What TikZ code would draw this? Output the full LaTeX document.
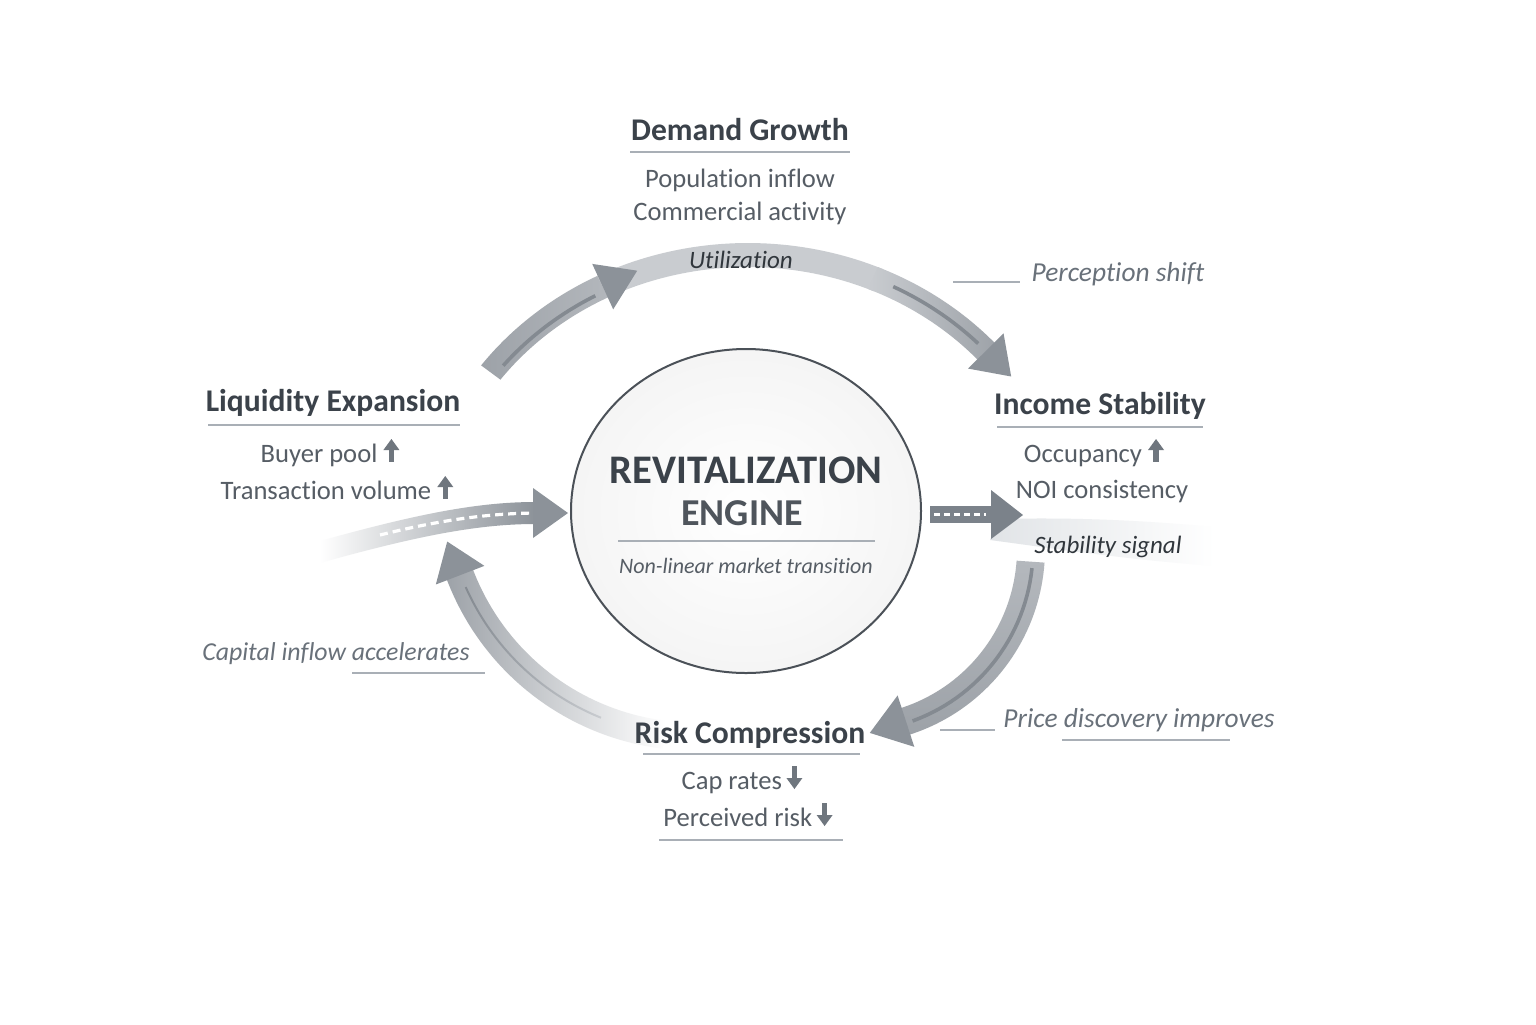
\documentclass[tikz,border=0pt]{standalone}
\usepackage{fontspec}
\setmainfont{Carlito}[Ligatures={NoCommon}]
\usetikzlibrary{shapes.geometric}
\definecolor{txtdark}{HTML}{3B424A}
\definecolor{txtbody}{HTML}{565D65}
\definecolor{txtside}{HTML}{69717A}
\definecolor{txtlabel}{HTML}{30363C}
\definecolor{rulec}{HTML}{A9AFB6}
\definecolor{stripec}{HTML}{848A91}
\definecolor{headc}{HTML}{8C9299}
\definecolor{ringc}{HTML}{4B5158}
\definecolor{solidarr}{HTML}{7B828A}
\definecolor{glyphc}{HTML}{6F767E}
\definecolor{bandA}{HTML}{9DA2A8}
\definecolor{bandB}{HTML}{B4B8BD}
\definecolor{bandC}{HTML}{C9CCD0}
\definecolor{bandL}{HTML}{F3F4F5}
\definecolor{wedge}{HTML}{E1E4E7}

\newcommand{\upglyph}{\tikz[baseline=0pt]{\fill[glyphc] (-1.3pt,0pt) rectangle (1.3pt,7pt); \fill[glyphc] (-4pt,6pt) -- (0pt,11.5pt) -- (4pt,6pt) -- cycle;}}
\newcommand{\downglyph}{\tikz[baseline=0pt]{\fill[glyphc] (-1.3pt,4.5pt) rectangle (1.3pt,11.5pt); \fill[glyphc] (-4pt,5.5pt) -- (0pt,0pt) -- (4pt,5.5pt) -- cycle;}}

% arrow head on an elliptic arc: cx cy rx ry t sign len halfwidth colour
\newcommand{\ehead}[9]{%
 \pgfmathsetmacro{\hBx}{#1+#3*cos(#5)}%
 \pgfmathsetmacro{\hBy}{#2+#4*sin(#5)}%
 \pgfmathsetmacro{\hTx}{-#3*sin(#5)}%
 \pgfmathsetmacro{\hTy}{#4*cos(#5)}%
 \pgfmathsetmacro{\hN}{veclen(\hTx,\hTy)}%
 \pgfmathsetmacro{\hUx}{#6*\hTx/\hN}%
 \pgfmathsetmacro{\hUy}{#6*\hTy/\hN}%
 \fill[#9] ({\hBx+#8*\hUy},{\hBy-#8*\hUx}) -- ({\hBx+#7*\hUx},{\hBy+#7*\hUy}) -- ({\hBx-#8*\hUy},{\hBy+#8*\hUx}) -- cycle;}
% band along an elliptic arc: cx cy rx ry t1 t2 halfwidth shade-options
\newcommand{\eband}[8]{%
 \shade[#8] plot[domain=#5:#6, samples=40, variable=\t] ({#1+(#3+#7)*cos(\t)},{#2+(#4+#7)*sin(\t)}) -- plot[domain=#6:#5, samples=40, variable=\t] ({#1+(#3-#7)*cos(\t)},{#2+(#4-#7)*sin(\t)}) -- cycle;}

\tikzset{
 title/.style={font=\fontsize{15.8}{19}\selectfont\bfseries, text=txtdark, anchor=base, inner sep=0pt},
 body/.style={font=\fontsize{13.3}{16}\selectfont, text=txtbody, anchor=base, inner sep=0pt},
 side/.style={font=\fontsize{13.7}{17}\selectfont\itshape, text=txtside, anchor=base, inner sep=0pt},
 inlab/.style={font=\fontsize{12.5}{15}\selectfont\itshape, text=txtlabel, anchor=base, inner sep=0pt},
 rule/.style={rulec, line width=0.75pt},
}

\begin{document}
\begin{tikzpicture}[x=0.5pt, y=-0.5pt]
\useasboundingbox[fill=white] (0,0) rectangle (1536,1024);

% ---------- top arc (Liquidity -> Demand -> Income) ----------
\eband{748}{545}{320}{290}{-143.5}{-116}{12}{left color=bandA, right color=bandB}
\eband{748}{545}{320}{290}{-117}{-66}{12}{left color=bandC, middle color=bandL, right color=bandC}
\eband{748}{545}{320}{290}{-67}{-41}{12}{left color=bandC, right color=bandA}
\draw[stripec, line width=1.8pt] plot[domain=-141:-119, samples=30, variable=\t] ({748+315*cos(\t)},{545+285*sin(\t)});
\draw[stripec, line width=1.8pt] plot[domain=-63:-44, samples=30, variable=\t] ({748+320*cos(\t)},{545+290*sin(\t)});
\ehead{748}{545}{320}{290}{-117}{1}{38}{25}{headc}
\ehead{748}{545}{320}{290}{-42}{1}{36}{25}{headc}

% ---------- bottom-right arc (Income -> Risk) ----------
\eband{850}{549}{181}{181}{4}{73}{14}{top color=bandB, middle color=bandC, bottom color=bandA}
\draw[stripec, line width=1.8pt] plot[domain=6:70, samples=30, variable=\t] ({850+183*cos(\t)},{549+183*sin(\t)});
\ehead{850}{549}{181}{181}{72}{1}{38}{27}{headc}

% ---------- bottom-left arc (Risk -> Liquidity) ----------
\eband{695}{485}{251.6}{251.6}{97}{160}{14}{left color=bandA, right color=white}
\eband{695}{485}{251}{251}{112}{156}{1}{left color=stripec, right color=bandC}
\ehead{695}{485}{251.6}{251.6}{159}{1}{36}{26}{headc}

% ---------- incoming arrow from the left ----------
\shade[left color=white, right color=headc] (320,541) .. controls (420,513) and (480,502) .. (535,502) -- (535,524) .. controls (480,524) and (420,535) .. (320,563) -- cycle;
\draw[white, line width=1.6pt, dash pattern=on 4pt off 2.5pt] (380,535) .. controls (440,520) and (490,513) .. (540,513);
\coordinate (intip) at (568,513);
\fill[headc] (533,488) -- (intip) -- (533,538) -- cycle;

% ---------- stability signal ribbon and outgoing arrow ----------
\shade[left color=wedge, right color=white] (1000,519) .. controls (1080,517) and (1150,521) .. (1215,527) -- (1215,566) .. controls (1130,560) and (1050,548) .. (990,540) -- cycle;
\fill[solidarr] (930,506) rectangle (994,523);
\coordinate (outtip) at (1023,515);
\fill[solidarr] (991,490) -- (outtip) -- (991,539) -- cycle;
\draw[white, line width=1.5pt, dash pattern=on 3pt off 2pt] (934,514.5) -- (986,514.5);

% ---------- central engine ----------
\node (engine) [ellipse, draw=ringc, line width=1pt, inner color=white, outer color=black!4,
  minimum width=175pt, minimum height=162pt] at (746,511) {};
\node (rev) [font=\fontsize{20.3}{24}\selectfont\bfseries, text=txtdark, anchor=base, inner sep=0pt] at (746,483) {REVITALIZATION};
\node (eng) [font=\fontsize{19}{23}\selectfont\bfseries, text=txtdark!90, anchor=base, inner sep=0pt] at (742,525) {ENGINE};
\draw[rule] (618,541) -- (875,541);
\node (nonlin) [inlab, font=\fontsize{11}{13}\selectfont\itshape, text=txtbody] at (746,573) {Non-linear market transition};

% ---------- Demand Growth ----------
\node (demand) [title] at (740,140) {Demand Growth};
\draw[rule] (630,152) -- (850,152);
\node (pop) [body] at (740,187) {Population inflow};
\node (comm) [body] at (740,220) {Commercial activity};
\node (util) [inlab] at (741,268) {Utilization};

% ---------- Perception shift ----------
\coordinate (ps1) at (953,282);
\coordinate (ps2) at (1020,282);
\draw[rule] (ps1) -- (ps2);
\node (perc) [side] at (1118,281) {Perception shift};

% ---------- Liquidity Expansion ----------
\node (liq) [title] at (333,411) {Liquidity Expansion};
\draw[rule] (208,425) -- (460,425);
\node (buyer) [body] at (330,462) {Buyer pool \upglyph};
\node (trans) [body] at (337,499) {Transaction volume \upglyph};

% ---------- Income Stability ----------
\node (income) [title] at (1100,414) {Income Stability};
\draw[rule] (997,427) -- (1203,427);
\node (occ) [body] at (1094,462) {Occupancy \upglyph};
\node (noi) [body] at (1102,498) {NOI consistency};
\node (stab) [inlab] at (1108,553) {Stability signal};

% ---------- Capital inflow ----------
\node (cap) [side, font=\fontsize{12.9}{16}\selectfont\itshape] at (336,660) {Capital inflow accelerates};
\draw[rule] (352,673) -- (485,673);

% ---------- Price discovery ----------
\draw[rule] (940,730) -- (995,730);
\node (price) [side] at (1139,727) {Price discovery improves};
\draw[rule] (1062,740) -- (1230,740);

% ---------- Risk Compression ----------
\node (risk) [title] at (750,743) {Risk Compression};
\draw[rule] (643,754) -- (860,754);
\node (caprates) [body] at (742,789) {Cap rates\,\downglyph};
\node (perceived) [body] at (748,826) {Perceived risk\,\downglyph};
\draw[rule] (659,840) -- (843,840);
\end{tikzpicture}
\end{document}
